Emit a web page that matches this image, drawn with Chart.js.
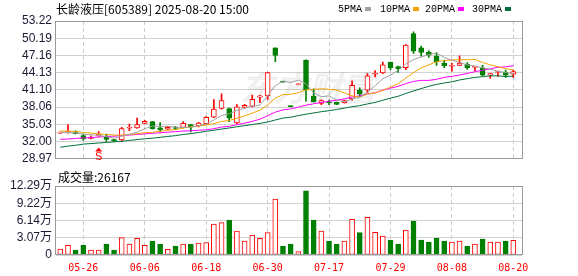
<!DOCTYPE html>
<html>
<head>
<meta charset="utf-8">
<script src="https://cdn.jsdelivr.net/npm/chart.js@4.4.1/dist/chart.umd.min.js"></script>
<style>
html, body { margin: 0; padding: 0; background: #fff; }
#wrap { position: relative; width: 578px; height: 276px; overflow: hidden; }
canvas { position: absolute; left: 0; }
#kline { top: 0; }
#vol { top: 170px; }
</style>
</head>
<body>
<div id="wrap">
  <canvas id="kline" width="578" height="170"></canvas>
  <canvas id="vol" width="578" height="106"></canvas>
</div>
<script>
// ---- data ----
const stockTitle = '长龄液压[605389] 2025-08-20 15:00';
const volTitle = '成交量:26167';

const tickIndex  = [3, 11, 19, 27, 35, 43, 51, 59];
const tickLabels = ['05-26', '06-06', '06-18', '06-30', '07-17', '07-29', '08-08', '08-20'];
const priceTicks = [28.97, 32.00, 35.03, 38.06, 41.10, 44.13, 47.16, 50.19, 53.22];
const volTicks   = [0, 3.07, 6.14, 9.22, 12.29];
const maNames    = ['5PMA', '10PMA', '20PMA', '30PMA'];

const opens = [33.5, 33.65, 33.6, 33.05, 32.55, 33.1, 32.9, 32.35, 32.3, 34.35,
  34.4, 35.2, 35.5, 34.4, 34.2, 34.45, 34.5, 35.0, 34.75, 35.15,
  36.3, 37.85, 37.8, 35.3, 38.0, 38.2, 39.8, 40.05, 48.5, 42.55,
  38.25, 42.0, 46.35, 40.0, 38.7, 38.9, 38.9, 38.85, 39.55, 41.0,
  41.05, 43.85, 44.1, 45.95, 45.2, 45.0, 51.0, 48.5, 47.7, 47.05,
  45.8, 45.25, 45.4, 45.65, 45.05, 45.0, 43.7, 44.15, 44.25, 43.85];
const highs = [33.7, 35.0, 33.9, 33.3, 33.0, 33.75, 33.3, 32.4, 34.5, 35.1,
  36.15, 35.75, 35.5, 35.35, 34.7, 34.7, 35.5, 35.05, 35.4, 36.4,
  39.4, 40.4, 37.9, 38.5, 38.55, 40.2, 40.15, 44.2, 48.5, 42.6,
  38.3, 42.15, 46.4, 41.3, 39.35, 39.3, 38.95, 39.3, 42.7, 41.45,
  43.95, 44.5, 46.0, 46.0, 45.3, 49.05, 51.3, 48.8, 47.95, 47.65,
  46.35, 45.8, 47.1, 45.9, 45.15, 45.4, 44.0, 44.3, 44.6, 44.6];
const lows = [33.45, 33.5, 33.35, 32.2, 32.45, 32.9, 32.05, 32.0, 32.05, 33.9,
  34.3, 35.1, 34.2, 33.7, 34.1, 34.1, 34.4, 33.7, 34.6, 35.0,
  36.2, 37.7, 35.5, 35.15, 37.9, 38.1, 38.85, 39.4, 46.05, 42.4,
  38.1, 41.95, 39.1, 38.95, 38.5, 38.5, 38.5, 38.75, 39.3, 39.95,
  40.6, 43.4, 43.95, 44.6, 44.15, 44.65, 47.5, 47.05, 46.8, 45.4,
  45.0, 44.4, 45.35, 44.7, 44.5, 43.6, 43.1, 43.45, 43.3, 43.3];
const closes = [33.6, 33.75, 33.4, 32.45, 32.8, 33.2, 32.4, 32.1, 34.3, 34.45,
  35.0, 35.55, 34.25, 34.1, 34.5, 34.3, 35.2, 34.55, 35.25, 36.25,
  37.7, 39.2, 36.1, 38.1, 38.4, 39.45, 40.05, 44.13, 47.15, 42.45,
  38.15, 42.1, 41.1, 39.0, 39.2, 38.8, 38.55, 39.2, 41.9, 40.35,
  43.55, 44.0, 45.5, 45.0, 44.8, 49.0, 47.9, 47.7, 47.2, 46.0,
  45.35, 45.4, 45.8, 45.0, 45.1, 43.7, 43.95, 44.25, 43.7, 44.3];
// volume in 万
const volumes = [1.07, 1.72, 0.89, 1.72, 0.89, 0.89, 1.96, 0.89, 3.09, 1.96,
  2.97, 1.72, 2.49, 1.96, 1.01, 1.6, 1.96, 1.96, 2.14, 2.2,
  5.52, 5.76, 6.23, 4.27, 2.49, 3.56, 2.97, 3.98, 9.97, 1.6,
  1.96, 0.59, 11.45, 6.23, 4.27, 2.49, 1.96, 2.49, 6.35, 3.98,
  6.71, 4.04, 3.38, 2.67, 1.96, 4.45, 6.06, 2.67, 2.32, 3.03,
  2.49, 2.32, 2.49, 1.6, 1.96, 2.85, 2.32, 2.32, 2.49, 2.62];

const ma5 = [33.6, 33.6, 33.5, 33.3, 33.19, 33.11, 32.85, 32.59, 32.96, 33.29,
  33.65, 34.28, 34.71, 34.67, 34.68, 34.54, 34.47, 34.53, 34.76, 35.11,
  35.79, 36.59, 36.9, 37.47, 37.9, 38.25, 38.42, 40.03, 41.84, 42.65,
  42.39, 42.8, 42.19, 40.56, 39.91, 40.04, 39.33, 38.95, 39.53, 39.76,
  40.71, 41.8, 43.06, 43.68, 44.57, 45.66, 46.44, 46.88, 47.32, 47.56,
  46.83, 46.31, 45.93, 45.49, 45.31, 44.98, 44.71, 44.4, 44.14, 43.98];
const ma10 = [33.85, 33.85, 33.8, 33.6, 33.5, 33.35, 33.25, 33.15, 33.15, 33.24,
  33.38, 33.57, 33.65, 33.82, 33.99, 34.1, 34.38, 34.62, 34.72, 34.9,
  35.17, 35.53, 35.72, 36.12, 36.51, 37.02, 37.51, 38.46, 39.65, 40.27,
  40.32, 40.61, 41.11, 41.2, 41.28, 41.21, 41.06, 40.57, 40.05, 39.84,
  40.38, 40.57, 41.0, 41.6, 42.17, 43.19, 44.12, 44.97, 45.5, 46.07,
  46.25, 46.38, 46.41, 46.41, 46.44, 45.91, 45.51, 45.17, 44.82, 44.65];
const ma20 = [32.4, 32.45, 32.55, 32.65, 32.7, 32.8, 32.9, 32.95, 33.05, 33.15,
  33.25, 33.35, 33.45, 33.55, 33.65, 33.75, 33.85, 33.9, 34.0, 34.07,
  34.27, 34.55, 34.68, 34.97, 35.25, 35.56, 35.94, 36.54, 37.18, 37.58,
  37.74, 38.07, 38.41, 38.66, 38.89, 39.12, 39.28, 39.52, 39.85, 40.05,
  40.35, 40.59, 41.06, 41.4, 41.72, 42.2, 42.59, 42.77, 42.77, 42.95,
  43.31, 43.47, 43.71, 44.0, 44.3, 44.55, 44.82, 45.07, 45.16, 45.36];
const ma30 = [31.0, 31.2, 31.35, 31.55, 31.65, 31.75, 31.85, 31.95, 32.05, 32.2,
  32.35, 32.5, 32.6, 32.75, 32.9, 33.05, 33.25, 33.4, 33.6, 33.8,
  34.0, 34.2, 34.4, 34.6, 34.8, 35.0, 35.2, 35.45, 35.8, 36.14,
  36.29, 36.57, 36.82, 37.04, 37.26, 37.44, 37.65, 37.88, 38.14, 38.33,
  38.62, 38.9, 39.28, 39.64, 39.98, 40.47, 40.9, 41.33, 41.73, 42.06,
  42.31, 42.52, 42.84, 43.07, 43.29, 43.43, 43.56, 43.57, 43.45, 43.52];

const sMarkIndex = 5;
const sMarkPrice = 30.95;

// ---- styles ----
const RED = '#ff0000';
const GREEN = '#008000';
const maColors = ['#a0a0a0', '#f4a300', '#ff00ff', '#00703a'];
const AXIS_FONT = '"Liberation Sans", "Noto Sans CJK SC", sans-serif';
const CJK_FONT = '"Noto Sans CJK SC", sans-serif';
const X_MIN = -0.56, X_MAX = 60.13;

const idx = closes.map((_, i) => i);
const candleUp = i => closes[i] >= opens[i];
const volUp = i => i === 0 ? candleUp(0) : closes[i] >= closes[i - 1];

const frame = {
  id: 'frame',
  afterDatasetsDraw(chart) {
    const { ctx, chartArea: a } = chart;
    ctx.save();
    ctx.strokeStyle = '#999';
    ctx.lineWidth = 1;
    ctx.strokeRect(Math.round(a.left) - 0.5, Math.round(a.top) + 0.5,
      Math.round(a.right - a.left) + 1, Math.round(a.bottom - a.top) - 1);
    ctx.restore();
  }
};

const klineText = {
  id: 'klineText',
  beforeDatasetsDraw(chart) {
    const ctx = chart.ctx;
    ctx.save();
    ctx.font = 'italic bold 34px ' + CJK_FONT;
    ctx.fillStyle = 'rgba(0,0,0,0.06)';
    ctx.textBaseline = 'middle';
    ctx.fillText('东方财富', 240, 88);
    ctx.restore();
  },
  afterDraw(chart) {
    const ctx = chart.ctx;
    ctx.save();
    ctx.fillStyle = '#000';
    ctx.textBaseline = 'middle';
    ctx.font = '12px ' + CJK_FONT;
    ctx.fillText(stockTitle, 56, 9);

    const legendX = [338, 380, 425, 472];
    ctx.font = '10px "Liberation Mono", monospace';
    maNames.forEach((n, k) => {
      ctx.fillStyle = '#000';
      ctx.fillText(n, legendX[k], 9);
      const w = ctx.measureText(n).width;
      ctx.fillStyle = maColors[k];
      ctx.fillRect(legendX[k] + w + 3, 7, 6, 4);
    });

    // S marker
    const x = chart.scales.x.getPixelForValue(sMarkIndex);
    const y = chart.scales.y.getPixelForValue(sMarkPrice);
    ctx.fillStyle = RED;
    ctx.beginPath();
    ctx.moveTo(x, y);
    ctx.lineTo(x - 3.5, y + 4);
    ctx.lineTo(x + 3.5, y + 4);
    ctx.closePath();
    ctx.fill();
    ctx.font = '11px "Liberation Sans", sans-serif';
    ctx.textAlign = 'center';
    ctx.textBaseline = 'top';
    ctx.fillText('S', x, y + 4);
    ctx.restore();
  }
};

const volText = {
  id: 'volText',
  afterDraw(chart) {
    const ctx = chart.ctx;
    ctx.save();
    ctx.fillStyle = '#000';
    ctx.textBaseline = 'middle';
    ctx.font = '12px ' + CJK_FONT;
    ctx.fillText(volTitle, 58, 7);
    ctx.restore();
  }
};

Chart.defaults.font.family = AXIS_FONT;

new Chart(document.getElementById('kline'), {
  type: 'bar',
  data: {
    datasets: [
      {
        label: 'wick',
        data: idx.map(i => ({ x: i, y: [lows[i], highs[i]] })),
        barThickness: 1,
        grouped: false,
        backgroundColor: c => candleUp(c.dataIndex) ? RED : GREEN,
        order: 3
      },
      {
        label: 'body',
        data: idx.map(i => ({ x: i, y: [opens[i], closes[i]] })),
        barThickness: 5,
        grouped: false,
        minBarLength: 1,
        borderSkipped: false,
        borderWidth: 1,
        borderColor: c => candleUp(c.dataIndex) ? RED : GREEN,
        backgroundColor: c => candleUp(c.dataIndex) ? '#ffffff' : GREEN,
        order: 2
      },
      ...[ma5, ma10, ma20, ma30].map((s, k) => ({
        type: 'line',
        label: maNames[k],
        data: idx.map(i => ({ x: i, y: s[i] })),
        borderColor: maColors[k],
        borderWidth: 1,
        pointRadius: 0,
        tension: 0,
        order: 0
      }))
    ]
  },
  options: {
    responsive: false,
    animation: false,
    layout: { padding: { left: 0, right: 56, top: 21, bottom: 5 } },
    plugins: { legend: { display: false }, tooltip: { enabled: false } },
    scales: {
      x: {
        type: 'linear', min: X_MIN, max: X_MAX, offset: false,
        afterBuildTicks: s => { s.ticks = tickIndex.map(v => ({ value: v })); },
        afterFit: s => { s.height = 0; },
        ticks: { display: false },
        grid: { color: '#cccccc', drawTicks: false, offset: false },
        border: { display: false, dash: [4, 3] }
      },
      y: {
        min: priceTicks[0], max: priceTicks[priceTicks.length - 1],
        afterBuildTicks: s => { s.ticks = priceTicks.map(v => ({ value: v })); },
        afterFit: s => { s.width = 56; },
        ticks: {
          padding: 4, color: '#1a1a33', font: { size: 12 }, autoSkip: false,
          callback: v => v.toFixed(2)
        },
        grid: { color: '#d2d2d2', drawTicks: false },
        border: { display: false }
      }
    }
  },
  plugins: [frame, klineText]
});

new Chart(document.getElementById('vol'), {
  type: 'bar',
  data: {
    datasets: [{
      label: '成交量',
      data: idx.map(i => ({ x: i, y: volumes[i] })),
      barThickness: 5,
      grouped: false,
      borderSkipped: false,
      borderWidth: 1,
      borderColor: c => volUp(c.dataIndex) ? RED : GREEN,
      backgroundColor: c => volUp(c.dataIndex) ? '#ffffff' : GREEN
    }]
  },
  options: {
    responsive: false,
    animation: false,
    layout: { padding: { left: 0, right: 56, top: 16, bottom: 0 } },
    plugins: { legend: { display: false }, tooltip: { enabled: false } },
    scales: {
      x: {
        type: 'linear', min: X_MIN, max: X_MAX, offset: false,
        afterBuildTicks: s => { s.ticks = tickIndex.map(v => ({ value: v })); },
        afterFit: s => { s.height = 21; },
        ticks: {
          padding: 7, color: RED, autoSkip: false, maxRotation: 0,
          font: { family: '"DejaVu Sans Mono", monospace', size: 10 },
          callback: v => tickLabels[tickIndex.indexOf(v)]
        },
        grid: { color: '#cccccc', drawTicks: false, offset: false },
        border: { display: false, dash: [4, 3] }
      },
      y: {
        min: 0, max: volTicks[volTicks.length - 1],
        afterBuildTicks: s => { s.ticks = volTicks.map(v => ({ value: v })); },
        afterFit: s => { s.width = 56; },
        ticks: {
          padding: 4, color: '#1a1a33', font: { size: 12 }, autoSkip: false,
          callback: v => v === 0 ? '0' : v.toFixed(2) + '万'
        },
        grid: { color: '#d2d2d2', drawTicks: false },
        border: { display: false }
      }
    }
  },
  plugins: [frame, volText]
});
</script>
</body>
</html>
